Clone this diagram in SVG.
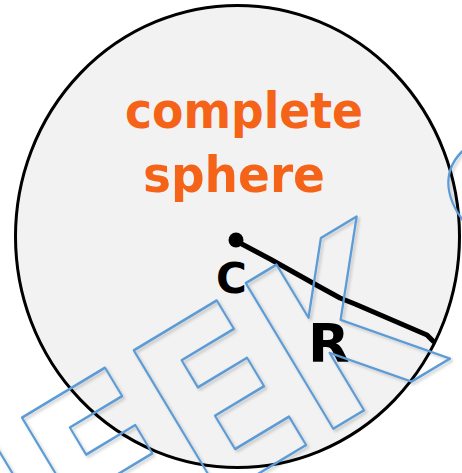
<svg xmlns="http://www.w3.org/2000/svg" width="462" height="473" viewBox="0 0 462 473">
  <style>
    .hand { fill: #f46318; font-family: "DejaVu Sans", sans-serif; font-weight: bold; }
    .ink { fill: #000; font-family: "DejaVu Sans", sans-serif; font-weight: bold; }
    .wm { fill: none; stroke: #5b9bd5; stroke-width: 2.5; stroke-linejoin: round; font-family: "DejaVu Sans", sans-serif; font-weight: bold; font-size: 233px; }
  </style>
  <defs>
    <filter id="shadow" x="-10%" y="-10%" width="120%" height="120%">
      <feDropShadow dx="2" dy="2" stdDeviation="1.5" flood-color="#000" flood-opacity="0.2"/>
    </filter>
  </defs>
  <rect width="462" height="473" fill="#ffffff"/>
  <g id="sphere">
    <ellipse cx="237.5" cy="236.5" rx="222" ry="231" fill="#f2f2f2" stroke="#000" stroke-width="3"/>
  </g>
  <g id="title">
    <text class="hand" x="125" y="128" font-size="50" textLength="238" lengthAdjust="spacingAndGlyphs">complete</text>
    <text class="hand" x="143" y="192" font-size="50" textLength="182" lengthAdjust="spacingAndGlyphs">sphere</text>
  </g>
  <g id="connectors">
    <path d="M238,242 L270,259 L320,287 L340,298 L355,304 L427,335 L433,341" fill="none" stroke="#000" stroke-width="5" stroke-linecap="round" stroke-linejoin="round"/>
  </g>
  <g id="center">
    <circle cx="236" cy="240" r="7.5" fill="#000"/>
    <text class="ink" x="216" y="293" font-size="42">C</text>
  </g>
  <g id="radius-label">
    <text class="ink" x="308" y="362" font-size="54">R</text>
  </g>
  <g id="watermark" filter="url(#shadow)">
    <text class="wm" transform="translate(-40 653) rotate(-31) scale(0.82 1)" x="0" y="0">GEEK<tspan dx="90">S</tspan></text>
  </g>
</svg>
